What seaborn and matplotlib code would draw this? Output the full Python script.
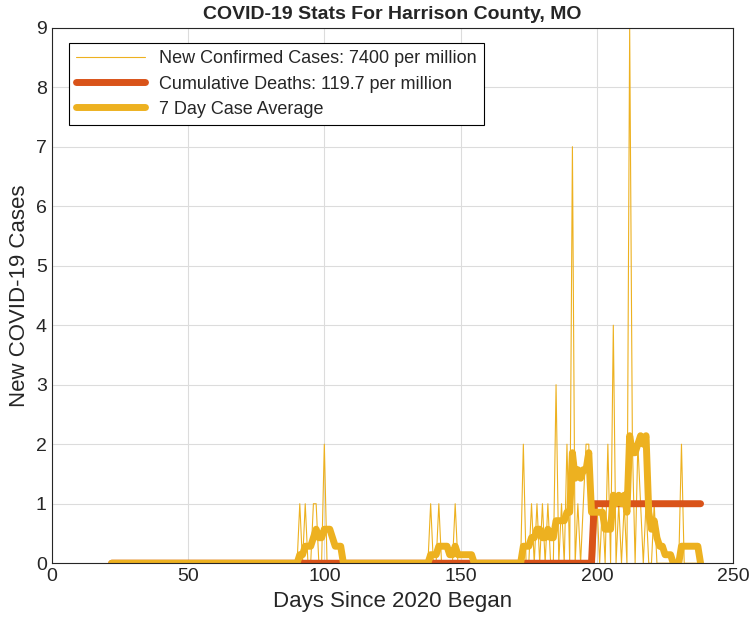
import matplotlib

matplotlib.use("Agg")
import matplotlib.pyplot as plt
import numpy as np
import pandas as pd
import seaborn as sns

# daily new cases (only non-zero days listed)
case_days = [91, 93, 96, 97, 100,
             139, 142, 148,
             173, 176, 178, 180, 182, 185, 187, 189, 191, 193, 195, 196, 197,
             200, 202, 204, 206, 208, 210, 212, 213, 215, 216, 218, 221, 231]
case_vals = [1, 1, 1, 1, 2,
             1, 1, 1,
             2, 1, 1, 1, 1, 3, 1, 2, 7, 1, 1, 2, 2,
             1, 1, 2, 4, 1, 1, 9, 2, 2, 1, 1, 1, 2]
first_day, last_day = 22, 238
death_day = 199  # first day with cumulative deaths = 1

days = np.arange(first_day, last_day + 1)
cases = pd.Series(0.0, index=days)
cases.loc[case_days] = case_vals
deaths = pd.Series(np.where(days >= death_day, 1, 0), index=days)
avg7 = cases.rolling(7, min_periods=1).mean()

df = pd.DataFrame({"day": days, "cases": cases.values,
                   "deaths": deaths.values, "avg": avg7.values})

sns.set_style("whitegrid")
plt.rcParams["font.family"] = ["Liberation Sans", "DejaVu Sans"]

YELLOW = "#EDB120"
ORANGE = "#D95319"

fig = plt.figure(figsize=(7.49, 6.30), dpi=100)
ax = fig.add_axes([0.069, 0.106, 0.910, 0.850])

sns.lineplot(data=df, x="day", y="cases", ax=ax, color=YELLOW, lw=0.8,
             label="New Confirmed Cases: 7400 per million")
sns.lineplot(data=df, x="day", y="deaths", ax=ax, color=ORANGE, lw=5,
             label="Cumulative Deaths: 119.7 per million")
sns.lineplot(data=df, x="day", y="avg", ax=ax, color=YELLOW, lw=5,
             label="7 Day Case Average")

ax.set_xlim(0, 250)
ax.set_ylim(0, 9)
ax.set_xticks(range(0, 251, 50))
ax.set_yticks(range(0, 10))
ax.grid(True, color="#dcdcdc", lw=0.8)
for s in ax.spines.values():
    s.set_visible(True)
    s.set_color("#262626")
    s.set_linewidth(0.8)
ax.tick_params(labelsize=14, colors="#262626", length=4, direction="in")
ax.set_xlabel("Days Since 2020 Began", fontsize=16, color="#262626")
ax.set_ylabel("New COVID-19 Cases", fontsize=16, color="#262626")
ax.set_title("COVID-19 Stats For Harrison County, MO", fontsize=14,
             fontweight="bold", pad=6)

leg = ax.legend(loc="upper left", fontsize=13, frameon=True, fancybox=False,
                edgecolor="black", framealpha=1, borderpad=0.4,
                handlelength=3.8, labelspacing=0.45,
                bbox_to_anchor=(0.012, 0.988))
leg.get_frame().set_linewidth(0.8)

fig.savefig("out.png", dpi=100)
